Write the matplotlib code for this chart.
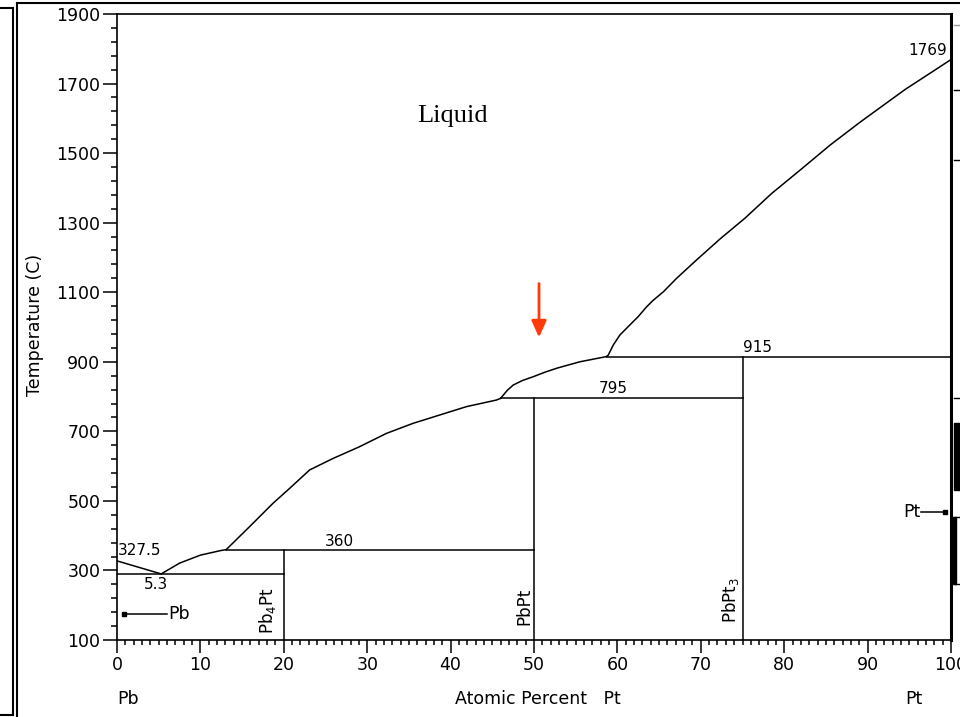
import matplotlib
matplotlib.use("Agg")
import matplotlib.pyplot as plt
from matplotlib.lines import Line2D
from matplotlib.patches import Rectangle
from matplotlib.ticker import MultipleLocator, FixedLocator

# Pb-Pt phase diagram
liq_pb_x = [0, 5.3]
liq_pb_t = [327.5, 290]
liq_a_x = [5.3, 7.5, 10.0, 12.4, 13.1]
liq_a_t = [290, 321, 344, 357, 360]
liq_b_x = [13.1, 15.9, 18.7, 20.7, 23.1, 25.9, 29.1, 32.3, 35.5, 38.7, 41.9, 45.5, 46.0]
liq_b_t = [360, 426, 493, 536, 589, 622, 656, 694, 723, 747, 771, 790, 795]
liq_c_x = [46.0, 46.8, 47.5, 48.6, 49.9, 51.3, 52.8, 55.5, 58.7]
liq_c_t = [795, 818, 833, 846, 857, 870, 882, 900, 915]
liq_d_x = [58.7, 58.9, 59.5, 60.3, 61.5, 62.5, 63.5, 64.3, 65.5, 67.1, 69.5,
           72.3, 75.3, 78.5, 81.9, 85.5, 89.1, 94.5, 100]
liq_d_t = [915, 919, 948, 977, 1006, 1030, 1058, 1077, 1101, 1140, 1193,
           1253, 1313, 1384, 1451, 1523, 1589, 1683, 1769]

# invariant lines: temperature, x from, x to
inv_t = [290, 360, 795, 915]
inv_x0 = [0, 13.1, 46.0, 58.7]
inv_x1 = [20, 50, 75, 100]

# compounds: composition, top of the line
comp_x = [20, 50, 75]
comp_top = [360, 795, 915]
comp_names = ["Pb$_4$Pt", "PbPt", "PbPt$_3$"]

W, H = 960, 717
fig = plt.figure(figsize=(W / 100, H / 100), dpi=100)
ax = fig.add_axes([117 / W, 1 - 640 / H, (951 - 117) / W, (640 - 14) / H])

lw = 1.1
for xs, ts in [(liq_pb_x, liq_pb_t), (liq_a_x, liq_a_t), (liq_b_x, liq_b_t),
               (liq_c_x, liq_c_t), (liq_d_x, liq_d_t)]:
    ax.plot(xs, ts, color="black", lw=lw)
for t, a, b in zip(inv_t, inv_x0, inv_x1):
    ax.plot([a, b], [t, t], color="black", lw=lw)
for x, top in zip(comp_x, comp_top):
    ax.plot([x, x], [100, top], color="black", lw=lw)

ax.set_xlim(0, 100)
ax.set_ylim(100, 1900)

fs = 11
ax.text(0.1, 357, "327.5", fontsize=fs, ha="left", va="center")
ax.text(4.7, 261, "5.3", fontsize=fs, ha="center", va="center")
ax.text(26.7, 382, "360", fontsize=fs, ha="center", va="center")
ax.text(59.5, 822, "795", fontsize=fs, ha="center", va="center")
ax.text(76.8, 942, "915", fontsize=fs, ha="center", va="center")
ax.text(99.5, 1796, "1769", fontsize=fs, ha="right", va="center")
ax.text(40.2, 1607, "Liquid", fontsize=19, family="Liberation Serif",
        ha="center", va="center")

ax.text(18.0, 118, comp_names[0], fontsize=12, rotation=90, ha="center", va="bottom")
ax.text(48.8, 143, comp_names[1], fontsize=12, rotation=90, ha="center", va="bottom")
ax.text(73.6, 150, comp_names[2], fontsize=12, rotation=90, ha="center", va="bottom")

# melting point markers
ax.plot([0.84, 5.95], [174, 174], color="black", lw=lw)
ax.plot([0.84], [174], "s", color="black", ms=3)
ax.text(6.1, 174, "Pb", fontsize=12.5, ha="left", va="center")
ax.plot([96.4, 99.3], [469, 469], color="black", lw=lw)
ax.plot([99.3], [469], "s", color="black", ms=3)
ax.text(96.3, 469, "Pt", fontsize=12.5, ha="right", va="center")

# red arrow
ax.annotate("", xy=(50.6, 962), xytext=(50.6, 1133),
            arrowprops=dict(arrowstyle="-|>,head_width=0.45,head_length=1.0",
                            color="#ff3b0a", lw=2))

ax.xaxis.set_major_locator(MultipleLocator(10))
ax.xaxis.set_minor_locator(MultipleLocator(1))
ax.yaxis.set_major_locator(FixedLocator(list(range(100, 1901, 200))))
ax.yaxis.set_minor_locator(FixedLocator(list(range(100, 1901, 40))))
ax.tick_params(which="major", direction="out", length=10, width=1.1,
               labelsize=12.5, pad=2)
ax.tick_params(which="minor", direction="out", length=4.5, width=1.1)
ax.tick_params(axis="x", which="major", length=9.5)
ax.tick_params(axis="x", which="minor", length=3.8)
for s in ["left", "bottom", "top"]:
    ax.spines[s].set_linewidth(1.2)
ax.spines["right"].set_linewidth(2.2)

fig.text(35 / W, 1 - 325 / H, "Temperature (C)", fontsize=12.5, rotation=90,
         ha="center", va="center")
fig.text(455 / W, 1 - 699 / H, "Atomic Percent   Pt", fontsize=12.5,
         ha="left", va="center")
fig.text(117 / W, 1 - 699 / H, "Pb", fontsize=12.5, ha="left", va="center")
fig.text(905 / W, 1 - 699 / H, "Pt", fontsize=12.5, ha="left", va="center")


# window frame remains around the screenshot
def fline(x0, y0, x1, y1, lw=1.5, color="black"):
    fig.add_artist(Line2D([x0 / W, x1 / W], [1 - y0 / H, 1 - y1 / H],
                          transform=fig.transFigure, color=color, lw=lw))


fline(0, 8, 13, 8)
fline(13, 8, 13, 715)
fline(0, 715, 13, 715)
fline(17, 3, 17, 717)
fline(17, 3, 960, 3)
fline(954, 25, 960, 25, lw=1, color="#999999")
fline(954, 90, 960, 90, lw=1)
fline(954, 160, 960, 160, lw=1)
fline(954, 398, 960, 398, lw=1)
fline(954, 517, 960, 517, lw=1)
fline(954, 584, 960, 584, lw=1)
fig.add_artist(Rectangle((954 / W, 1 - 490 / H), 6 / W, 67 / H,
                         transform=fig.transFigure, color="black"))
fig.add_artist(Rectangle((953 / W, 1 - 584 / H), 3 / W, 67 / H,
                         transform=fig.transFigure, color="black"))

fig.savefig("out.png", dpi=100)
